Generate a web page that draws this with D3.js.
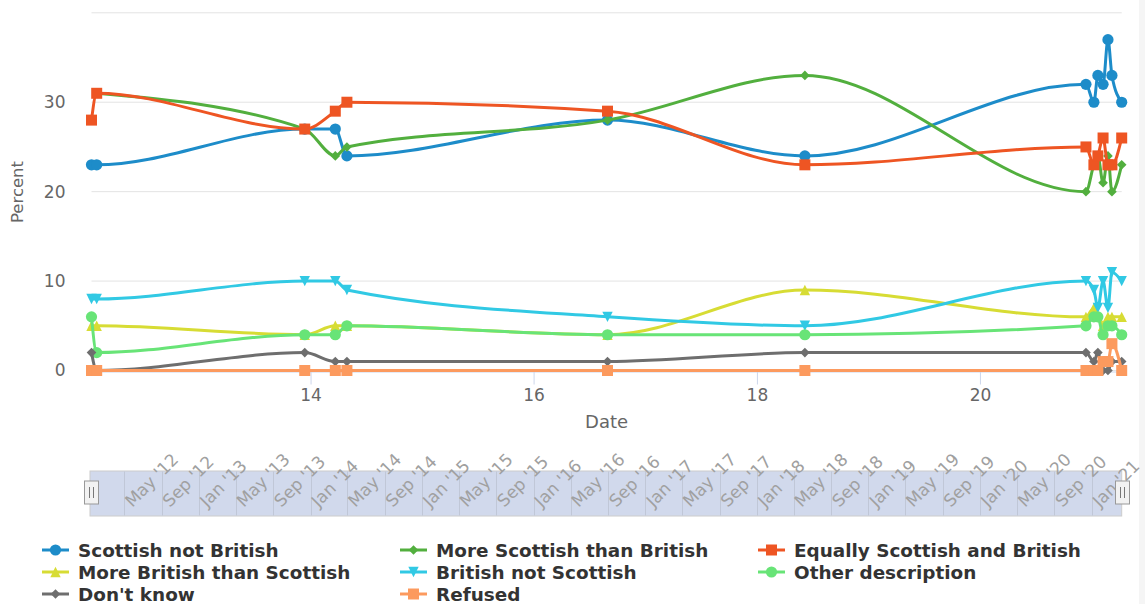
<!DOCTYPE html>
<html>
<head>
<meta charset="utf-8">
<script src="https://cdn.jsdelivr.net/npm/d3@7/dist/d3.min.js"></script>
<style>
  html, body { margin: 0; padding: 0; background: #ffffff; }
  svg { display: block; font-family: "DejaVu Sans", Verdana, sans-serif; }
</style>
</head>
<body>
<svg id="chart" width="1145" height="604"></svg>
<script>
// Survey fieldwork dates
const surveyDates = [
  "2012-01-15", "2012-02-01", "2013-12-13", "2014-03-23", "2014-04-30",
  "2016-08-30", "2018-06-07", "2020-12-13", "2021-01-08", "2021-01-21",
  "2021-02-07", "2021-02-23", "2021-03-08", "2021-04-09"
];

// National identity, percent of respondents
const scottishNotBritish      = [23, 23, 27, 27, 24, 28, 24, 32, 30, 33, 32, 37, 33, 30];
const moreScottishThanBritish = [null, 31, 27, 24, 25, 28, 33, 20, 23, 24, 21, 24, 20, 23];
const equallyScottishBritish  = [28, 31, 27, 29, 30, 29, 23, 25, 23, 24, 26, 23, 23, 26];
const moreBritishThanScottish = [5, 5, 4, 5, 5, 4, 9, 6, 7, 6, 5, 6, 6, 6];
const britishNotScottish      = [8, 8, 10, 10, 9, 6, 5, 10, 9, 7, 10, 7, 11, 10];
const otherDescription        = [6, 2, 4, 4, 5, 4, 4, 5, 6, 6, 4, 5, 5, 4];
const dontKnow                = [2, 0, 2, 1, 1, 1, 2, 2, 1, 2, 0, 0, 1, 1];
const refused                 = [0, 0, 0, 0, 0, 0, 0, 0, 0, 0, 1, 1, 3, 0];

const seriesNames = [
  "Scottish not British", "More Scottish than British", "Equally Scottish and British",
  "More British than Scottish", "British not Scottish", "Other description",
  "Don't know", "Refused"
];
const seriesColors = ["#1d8cc9", "#52af3e", "#ee5523", "#d7dc34", "#31c9e4", "#68e477", "#6e6e6e", "#fc9a5e"];
const seriesSymbols = ["circle", "diamond", "square", "triangle", "triangle-down", "circle", "diamond", "square"];

const yTickValues = [0, 10, 20, 30];
const yGridValues = [0, 10, 20, 30, 40];
const xTickYears = ["2014", "2016", "2018", "2020"];

const parseDate = d3.timeParse("%Y-%m-%d");
const dates = surveyDates.map(parseDate);
const seriesValues = [
  scottishNotBritish, moreScottishThanBritish, equallyScottishBritish,
  moreBritishThanScottish, britishNotScottish, otherDescription, dontKnow, refused
];

const svg = d3.select("#chart");
const plotLeft = 91.5, plotRight = 1121.7, plotTop = 12.8, plotBottom = 370.5;

const x = d3.scaleTime().domain(d3.extent(dates)).range([plotLeft, plotRight]);
const y = d3.scaleLinear().domain([0, 40]).range([plotBottom, plotTop]);

// right edge strip
svg.append("rect").attr("x", 1139).attr("y", 0).attr("width", 6).attr("height", 604).attr("fill", "#f5f5f5");

// horizontal grid
svg.append("g").selectAll("line").data(yGridValues).join("line")
  .attr("x1", plotLeft).attr("x2", plotRight)
  .attr("y1", d => y(d)).attr("y2", d => y(d))
  .attr("stroke", "#e3e3e3").attr("stroke-width", 1);

// x axis
const xAxis = svg.append("g").attr("transform", `translate(0,${plotBottom + 1})`)
  .call(d3.axisBottom(x)
    .tickValues(xTickYears.map(s => d3.timeParse("%Y")(s)))
    .tickFormat(d3.timeFormat("%y"))
    .tickSize(13).tickSizeOuter(0).tickPadding(4));
xAxis.select(".domain").attr("stroke", "#ccd6eb");
xAxis.selectAll(".tick line").attr("stroke", "#ccd6eb");
xAxis.selectAll(".tick text").attr("fill", "#666666").attr("font-size", 17)
  .attr("font-family", "DejaVu Sans, Verdana, sans-serif");

// y axis labels
const yAxis = svg.append("g").attr("transform", `translate(${plotLeft},0)`)
  .call(d3.axisLeft(y).tickValues(yTickValues).tickSize(0).tickPadding(26));
yAxis.select(".domain").remove();
yAxis.selectAll(".tick text").attr("fill", "#666666").attr("font-size", 17)
  .attr("font-family", "DejaVu Sans, Verdana, sans-serif");

// axis titles
svg.append("text").attr("x", (plotLeft + plotRight) / 2).attr("y", 428)
  .attr("text-anchor", "middle").attr("fill", "#666666").attr("font-size", 18).text("Date");
svg.append("text").attr("transform", "translate(23,192) rotate(-90)")
  .attr("text-anchor", "middle").attr("fill", "#666666").attr("font-size", 16.5).text("Percent");

// marker shapes
function markerPath(type, r) {
  switch (type) {
    case "circle": return `M${-r},0A${r},${r} 0 1,0 ${r},0A${r},${r} 0 1,0 ${-r},0Z`;
    case "square": return `M${-r},${-r}H${r}V${r}H${-r}Z`;
    case "diamond": return `M0,${-r}L${r},0L0,${r}L${-r},0Z`;
    case "triangle": return `M0,${-r}L${r},${r}H${-r}Z`;
    case "triangle-down": return `M${-r},${-r}H${r}L0,${r}Z`;
  }
}
const markerRadius = { "circle": 5.6, "square": 5.5, "diamond": 4.8, "triangle": 5.2, "triangle-down": 5.2 };

const line = d3.line()
  .defined(d => d.v != null)
  .x(d => x(d.date)).y(d => y(d.v))
  .curve(d3.curveMonotoneX);

const seriesLayer = svg.append("g");
seriesValues.forEach((vals, i) => {
  const pts = vals.map((v, j) => ({ date: dates[j], v }));
  const g = seriesLayer.append("g");
  g.append("path").datum(pts).attr("d", line)
    .attr("fill", "none").attr("stroke", seriesColors[i])
    .attr("stroke-width", 3).attr("stroke-linejoin", "round").attr("stroke-linecap", "round");
  g.selectAll("path.marker").data(pts.filter(p => p.v != null)).join("path")
    .attr("class", "marker")
    .attr("transform", p => `translate(${x(p.date)},${y(p.v)})`)
    .attr("d", markerPath(seriesSymbols[i], markerRadius[seriesSymbols[i]]))
    .attr("fill", seriesColors[i]);
});

// navigator
const navTop = 471, navBottom = 516;
const nav = svg.append("g");
nav.append("rect").attr("x", plotLeft - 1.5).attr("y", navTop)
  .attr("width", plotRight - plotLeft + 1.5).attr("height", navBottom - navTop)
  .attr("fill", "#d1d9ec").attr("stroke", "#cccccc").attr("stroke-width", 1);
const navTicks = d3.timeMonth.every(4).range(x.domain()[0], x.domain()[1]);
nav.selectAll("line.grid").data(navTicks).join("line")
  .attr("class", "grid")
  .attr("x1", d => Math.round(x(d)) + 0.5).attr("x2", d => Math.round(x(d)) + 0.5)
  .attr("y1", navTop + 0.5).attr("y2", navBottom - 0.5)
  .attr("stroke", "#c0c7d7").attr("stroke-width", 1);
nav.selectAll("text").data(navTicks).join("text")
  .attr("transform", d => `translate(${x(d) + 8},508) rotate(-45)`)
  .attr("fill", "#a0a0a0").attr("font-size", 17)
  .text(d3.timeFormat("%b '%y"));

// navigator handles
[plotLeft - 1, plotRight].forEach(cx => {
  const h = nav.append("g").attr("transform", `translate(${Math.round(cx) + 0.5},0)`);
  h.append("rect").attr("x", -7).attr("y", 481).attr("width", 14).attr("height", 23)
    .attr("fill", "#f2f2f2").attr("stroke", "#999999").attr("stroke-width", 1);
  [-2, 2].forEach(dx => h.append("line")
    .attr("x1", dx).attr("x2", dx).attr("y1", 487).attr("y2", 498)
    .attr("stroke", "#777777").attr("stroke-width", 1));
});

// legend
const legendCols = [78, 436, 794];
const legendRows = [550, 572, 594];
const legend = svg.append("g");
seriesNames.forEach((name, i) => {
  const tx = legendCols[i % 3], cy = legendRows[Math.floor(i / 3)];
  const g = legend.append("g");
  g.append("line").attr("x1", tx - 36).attr("x2", tx - 9).attr("y1", cy).attr("y2", cy)
    .attr("stroke", seriesColors[i]).attr("stroke-width", 3);
  g.append("path").attr("transform", `translate(${tx - 22.5},${cy})`)
    .attr("d", markerPath(seriesSymbols[i], markerRadius[seriesSymbols[i]]))
    .attr("fill", seriesColors[i]);
  g.append("text").attr("x", tx).attr("y", cy + 6.5)
    .attr("fill", "#333333").attr("font-size", 18.4).attr("font-weight", "bold").text(name);
});
</script>
</body>
</html>
